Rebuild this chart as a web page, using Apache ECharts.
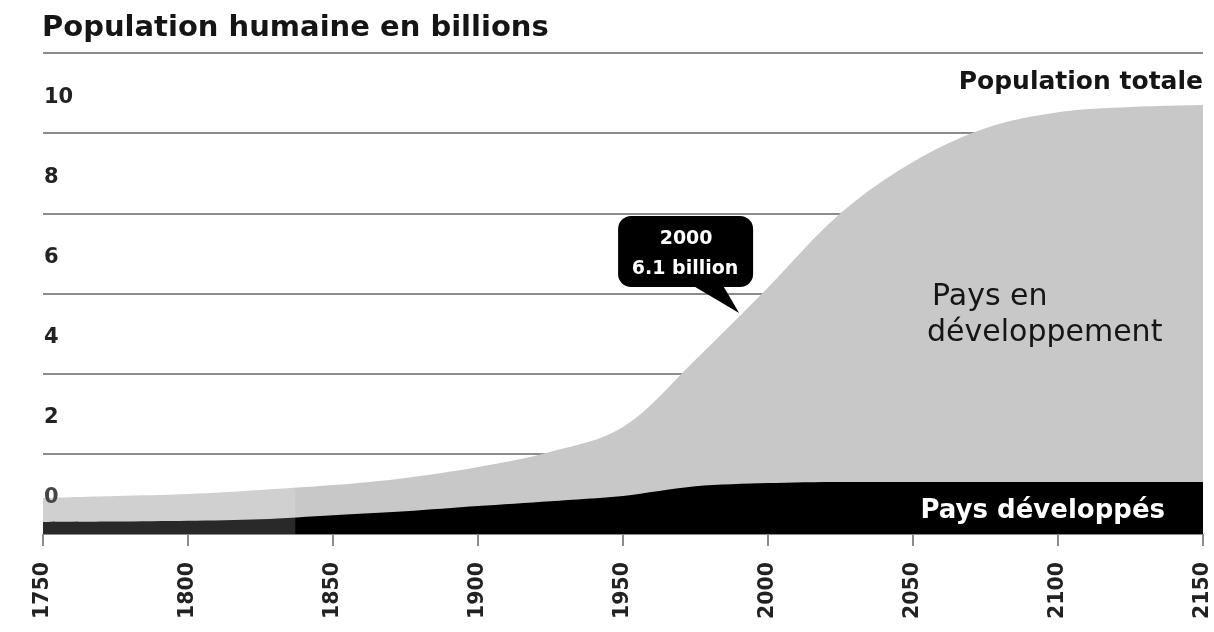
<!DOCTYPE html>
<html>
<head>
<meta charset="utf-8">
<script src="https://cdn.jsdelivr.net/npm/echarts@6/dist/echarts.min.js"></script>
<style>
  html, body { margin: 0; padding: 0; background: #fff; }
  #main { width: 1214px; height: 632px; }
</style>
</head>
<body>
<div id="main"></div>
<script>
// ---- data ----
const years = [1750, 1775, 1800, 1825, 1850, 1875, 1900, 1925, 1950, 1975, 2000, 2025, 2050, 2075, 2100, 2125, 2150];
const totalPop = [0.9, 0.95, 1.0, 1.1, 1.22, 1.4, 1.67, 2.05, 2.67, 4.35, 6.15, 8.0, 9.28, 10.12, 10.52, 10.65, 10.7];
const developedPop = [0.3, 0.31, 0.33, 0.37, 0.47, 0.57, 0.7, 0.82, 0.95, 1.19, 1.27, 1.3, 1.3, 1.3, 1.3, 1.3, 1.3];
const yTickLabels = ['0', '2', '4', '6', '8', '10'];
const xTickYears = [1750, 1800, 1850, 1900, 1950, 2000, 2050, 2100, 2150];
const titleText = 'Population humaine en billions';
const totalLabel = 'Population totale';
const developingLabel = ['Pays en', 'développement'];
const developedLabel = 'Pays développés';
const calloutLines = ['2000', '6.1 billion'];
const calloutAnchor = [1989, 5.39];
const fadedRange = [1750, 1837];

const FONT = 'DejaVu Sans';
const chart = echarts.init(document.getElementById('main'), null, { renderer: 'canvas' });

const totalData = years.map((y, i) => [y, totalPop[i]]);
const devData = years.map((y, i) => [y, developedPop[i]]);

chart.setOption({
  animation: false,
  backgroundColor: '#ffffff',
  title: {
    text: titleText,
    left: 37, top: 9,
    textStyle: { fontFamily: FONT, fontWeight: 'bold', fontSize: 29, color: '#151515' }
  },
  grid: { left: 43, right: 11, top: 53, bottom: 98, containLabel: false },
  xAxis: {
    type: 'value', min: 1750, max: 2150, interval: 50,
    axisLine: { show: false },
    axisTick: { show: true, length: 12, lineStyle: { color: '#8a8a8a', width: 2 } },
    splitLine: { show: false },
    axisLabel: {
      rotate: 90, margin: 28,
      fontFamily: FONT, fontWeight: 'bold', fontSize: 20.5, color: '#222',
      formatter: v => xTickYears.indexOf(v) >= 0 ? String(v) : ''
    }
  },
  yAxis: [
    {
      type: 'value', min: 0, max: 12, interval: 2,
      axisLine: { show: false }, axisTick: { show: false },
      axisLabel: { show: false },
      splitLine: { show: true, lineStyle: { color: '#8c8c8c', width: 2 } }
    },
    {
      type: 'value', min: -1, max: 11, interval: 1, position: 'left', z: 20,
      axisLine: { show: false }, axisTick: { show: false },
      splitLine: { show: false },
      axisLabel: {
        show: true, align: 'left', margin: -1, verticalAlign: 'top', lineHeight: 8,
        fontFamily: FONT, fontWeight: 'bold', fontSize: 21, color: '#222',
        formatter: v => (v >= 0 && v % 2 === 0 && yTickLabels.indexOf(String(v)) >= 0) ? String(v) : ''
      }
    }
  ],
  series: [
    {
      name: 'total', type: 'line', data: totalData, smooth: 0.35,
      showSymbol: false, symbol: 'none', z: 3,
      lineStyle: { width: 0 }, itemStyle: { color: '#c8c8c8' },
      areaStyle: { color: '#c8c8c8', opacity: 1 }
    },
    {
      name: 'developed', type: 'line', data: devData, smooth: 0.3,
      showSymbol: false, symbol: 'none', z: 4,
      lineStyle: { width: 0 }, itemStyle: { color: '#000' },
      areaStyle: { color: '#000000', opacity: 1 }
    }
  ]
});

function px(p) { return chart.convertToPixel({ xAxisIndex: 0, yAxisIndex: 0 }, p); }

const tip = px(calloutAnchor);
const fadeA = px([fadedRange[0], 1.25]);
const fadeB = px([fadedRange[1], 0]);

chart.setOption({
  graphic: [
    // faded watermark area on the left
    { type: 'rect', z: 30, silent: true,
      shape: { x: fadeA[0], y: fadeA[1], width: fadeB[0] - fadeA[0], height: fadeB[1] - fadeA[1] },
      style: { fill: 'rgba(255,255,255,0.16)' } },
    // callout bubble
    { type: 'rect', z: 40,
      shape: { x: tip[0] - 118, y: tip[1] - 102, width: 135, height: 71, r: 13 },
      style: { fill: '#000' } },
    { type: 'polygon', z: 40,
      shape: { points: [[tip[0] - 46, tip[1] - 34], [tip[0] - 14, tip[1] - 34], [tip[0] + 3, tip[1] - 5]] },
      style: { fill: '#000' } },
    { type: 'text', z: 41,
      style: { text: calloutLines[0], x: tip[0] - 50, y: tip[1] - 79, textAlign: 'center', textVerticalAlign: 'middle',
        font: 'bold 19px "DejaVu Sans"', fill: '#fff' } },
    { type: 'text', z: 41,
      style: { text: calloutLines[1], x: tip[0] - 51, y: tip[1] - 49, textAlign: 'center', textVerticalAlign: 'middle',
        font: 'bold 19px "DejaVu Sans"', fill: '#fff' } },
    // labels
    { type: 'text', z: 41,
      style: { text: totalLabel, x: 1203, y: 82, textAlign: 'right', textVerticalAlign: 'middle',
        font: 'bold 25px "DejaVu Sans"', fill: '#151515' } },
    { type: 'text', z: 41,
      style: { text: developingLabel[0], x: 932, y: 297, textAlign: 'left', textVerticalAlign: 'middle',
        font: '30px "DejaVu Sans"', fill: '#151515' } },
    { type: 'text', z: 41,
      style: { text: developingLabel[1], x: 927, y: 333, textAlign: 'left', textVerticalAlign: 'middle',
        font: '30px "DejaVu Sans"', fill: '#151515' } },
    { type: 'text', z: 41,
      style: { text: developedLabel, x: 1165, y: 511, textAlign: 'right', textVerticalAlign: 'middle',
        font: 'bold 26px "DejaVu Sans"', fill: '#ffffff' } }
  ]
});
</script>
</body>
</html>
